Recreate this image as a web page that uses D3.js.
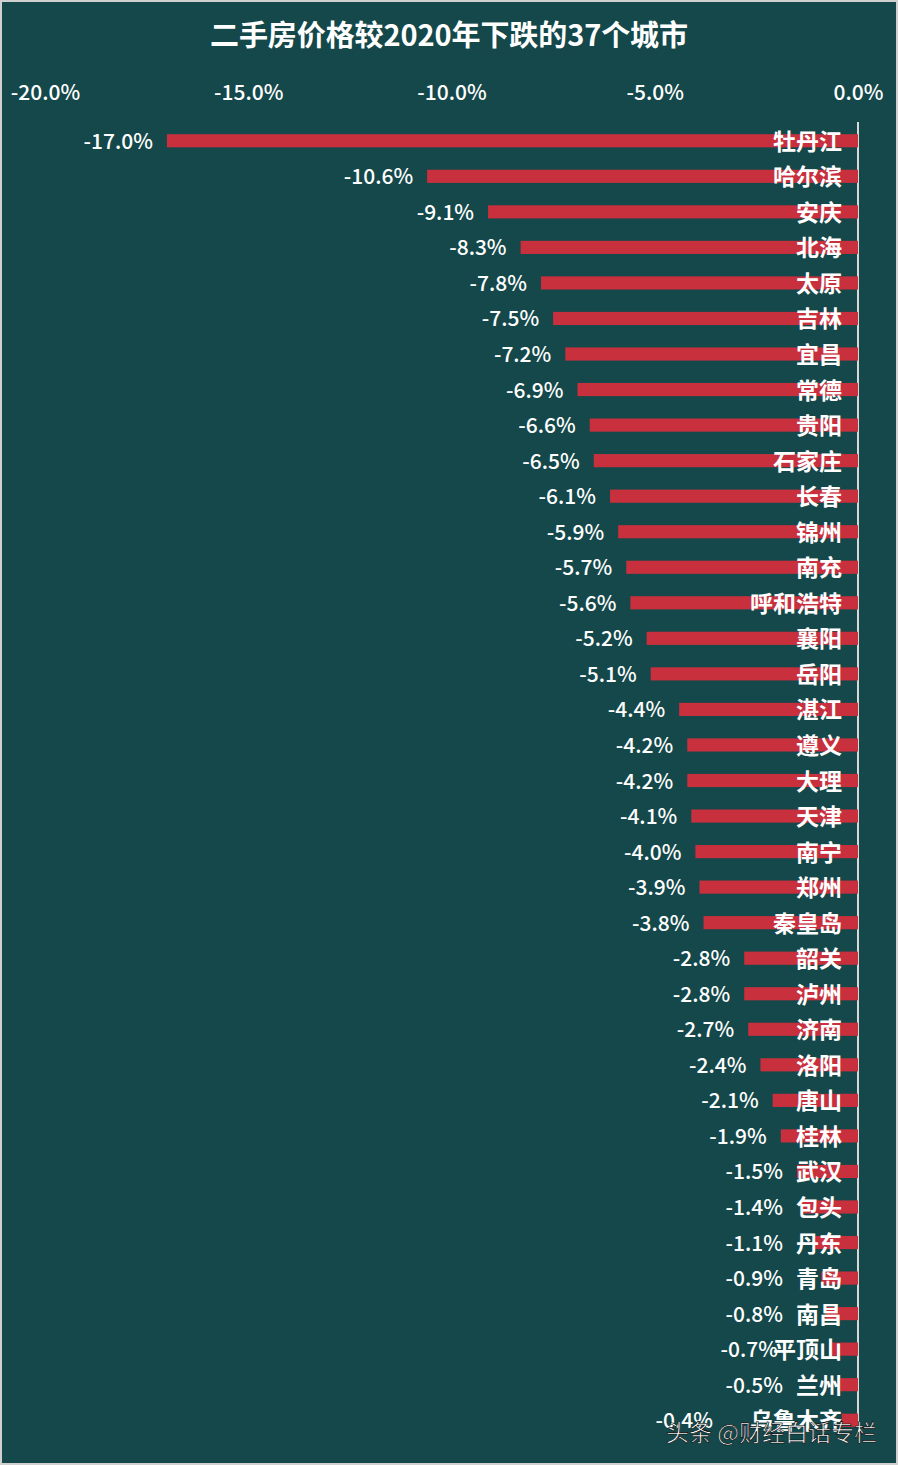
<!DOCTYPE html><html><head><meta charset="utf-8"><script src="https://cdn.jsdelivr.net/npm/d3@7"></script>
<style>body{margin:0;background:#fff}svg{display:block}</style></head><body><script>
const cities=["牡丹江","哈尔滨","安庆","北海","太原","吉林","宜昌","常德","贵阳","石家庄","长春","锦州","南充","呼和浩特","襄阳","岳阳","湛江","遵义","大理","天津","南宁","郑州","秦皇岛","韶关","泸州","济南","洛阳","唐山","桂林","武汉","包头","丹东","青岛","南昌","平顶山","兰州","乌鲁木齐"];
const values=[-17.0,-10.6,-9.1,-8.3,-7.8,-7.5,-7.2,-6.9,-6.6,-6.5,-6.1,-5.9,-5.7,-5.6,-5.2,-5.1,-4.4,-4.2,-4.2,-4.1,-4.0,-3.9,-3.8,-2.8,-2.8,-2.7,-2.4,-2.1,-1.9,-1.5,-1.4,-1.1,-0.9,-0.8,-0.7,-0.5,-0.4];
const ticks=[-20,-15,-10,-5,0];
const W=898,H=1465,F="'Noto Sans CJK SC',sans-serif";
const svg=d3.select("body").append("svg").attr("width",W).attr("height",H);
svg.append("rect").attr("x",1).attr("y",1).attr("width",W-2).attr("height",H-2).attr("fill","#14484a").attr("stroke","#d0d0d0").attr("stroke-width",2);
svg.append("text").attr("x",449).attr("y",46).attr("text-anchor","middle").attr("fill","#fff").attr("font-family",F).attr("font-weight","bold").attr("font-size",29).attr("textLength",478).text("二手房价格较2020年下跌的37个城市");
const x=d3.scaleLinear().domain([-20,0]).range([45,858]);
const y=d3.scaleBand().domain(cities).range([123,1438]).paddingInner(0.63).paddingOuter(0.315);
svg.append("g").attr("transform","translate(0,103)").call(d3.axisTop(x).tickValues(ticks).tickFormat(d=>d.toFixed(1)+"%").tickSize(0))
 .call(g=>g.select(".domain").remove()).selectAll("text").attr("fill","#fff").attr("font-family",F).attr("font-weight",500).attr("font-size",21);
svg.append("line").attr("x1",x(0)).attr("x2",x(0)).attr("y1",122).attr("y2",1422).attr("stroke","#d8d8d8").attr("stroke-width",2);
const g=svg.append("g");
const cap={2:783,3:778,4:713};
g.selectAll("rect.b").data(values).join("rect").attr("x",d=>x(d)).attr("y",(d,i)=>y(cities[i])).attr("width",d=>x(0)-x(d)).attr("height",y.bandwidth()).attr("fill","#c8303e");
g.selectAll("text.v").data(values).join("text").attr("x",(d,i)=>Math.min(x(d)-14,cap[cities[i].length])).attr("y",(d,i)=>y(cities[i])+y.bandwidth()/2+8).attr("text-anchor","end").attr("fill","#fff").attr("font-family",F).attr("font-weight",500).attr("font-size",21).text(d=>d.toFixed(1)+"%");
g.selectAll("text.c").data(cities).join("text").attr("x",842).attr("y",d=>y(d)+y.bandwidth()/2+9).attr("text-anchor","end").attr("fill","#fff").attr("font-family",F).attr("font-weight","bold").attr("font-size",23).text(d=>d);
svg.append("text").attr("x",877).attr("y",1441).attr("text-anchor","end").attr("fill","#fff").attr("font-family",F).attr("font-size",23).attr("stroke","#000").attr("stroke-width",0.6).text("头条 @财经白话专栏");
</script></body></html>
